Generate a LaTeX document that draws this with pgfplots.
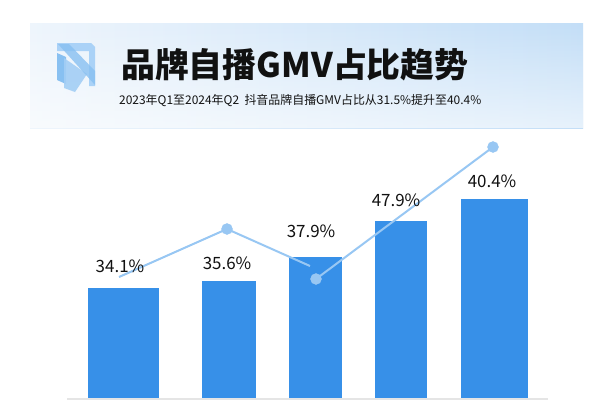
\documentclass[border=0pt]{standalone}
\usepackage{pgfplots}
\pgfplotsset{compat=1.18}
\usepackage{fontspec}
\setmainfont{Noto Sans CJK SC}
\usetikzlibrary{fadings}
\definecolor{barblue}{HTML}{3790E8}
\definecolor{lineblue}{HTML}{98C7F3}
\definecolor{panelL}{HTML}{EEF5FC}
\definecolor{panelR}{HTML}{C3DEF7}
\definecolor{logoA}{HTML}{AAD2F7}
\definecolor{logoB}{HTML}{88C0F1}
\definecolor{logoC}{HTML}{A3CEF5}
\definecolor{txt}{HTML}{111111}
\begin{document}
\begin{tikzpicture}
\begin{axis}[
  at={(0,0)}, anchor=south west,
  width=600bp, height=400bp, scale only axis,
  xmin=0, xmax=600, ymin=-2, ymax=398,
  hide axis, clip=false,
]
% background
\fill[white] (axis cs:0,-2) rectangle (axis cs:600,398);
% header panel
\shade[left color=panelL, right color=panelR] (axis cs:30,270) rectangle (axis cs:583,374);
\fill[white, path fading=north, opacity=0.6] (axis cs:30,270) rectangle (axis cs:583,374);
% logo
\fill[logoA] (axis cs:57,355) -- (axis cs:91,355) -- (axis cs:95,351) -- (axis cs:95,312) -- (axis cs:89,312) -- (axis cs:89,347) -- (axis cs:57,347) -- cycle;
\fill[logoB] (axis cs:57,345) -- (axis cs:66,341) -- (axis cs:66,314) -- (axis cs:57,318) -- cycle;
\fill[logoC, opacity=0.9] (axis cs:64,340) -- (axis cs:87,324) -- (axis cs:75,306) -- (axis cs:64,310) -- cycle;
\fill[logoB, opacity=0.8] (axis cs:58,354) -- (axis cs:69,354) -- (axis cs:95,327) -- (axis cs:95,313) -- cycle;
% titles
\node[anchor=west, inner sep=0pt, text=txt, font=\fontsize{34}{34}\selectfont\bfseries] at (axis cs:121,333.5) {品牌自播GMV占比趋势};
\node[anchor=west, inner sep=0pt, text=txt, font=\fontsize{12}{12}\selectfont] at (axis cs:119,297) {2023年Q1至2024年Q2\ \ 抖音品牌自播GMV占比从31.5\%提升至40.4\%};
% baseline
\draw[color=black!10, line width=1.5bp] (axis cs:67,-1) -- (axis cs:548,-1);
% bars
\addplot[ybar, bar shift=0pt, bar width=71, fill=barblue, draw=none] coordinates {(123.5,110)};
\addplot[ybar, bar shift=0pt, bar width=54, fill=barblue, draw=none] coordinates {(229,117)};
\addplot[ybar, bar shift=0pt, bar width=53, fill=barblue, draw=none] coordinates {(315.5,141)};
\addplot[ybar, bar shift=0pt, bar width=52, fill=barblue, draw=none] coordinates {(401,177)};
\addplot[ybar, bar shift=0pt, bar width=67, fill=barblue, draw=none] coordinates {(494.5,199)};
% trend line
\addplot[lineblue, line width=2bp, mark=none] coordinates {(119,121) (227,169) (310,132)};
\addplot[lineblue, line width=2bp, mark=none] coordinates {(316,119) (493,251)};
\addplot[only marks, mark=*, mark size=5.5bp, mark options={fill=lineblue, draw=lineblue}] coordinates {(227,169) (316,119) (493,251)};
% labels
\addplot[only marks, mark=none, point meta=explicit symbolic,
  nodes near coords={\pgfplotspointmeta\%},
  every node near coord/.append style={anchor=center, inner sep=0pt, text=txt, font=\fontsize{17}{17}\selectfont}]
  coordinates {(120,132)[34.1] (227,135)[35.6] (311,167)[37.9] (396,198)[47.9] (492,217)[40.4]};
\end{axis}
\end{tikzpicture}
\end{document}
